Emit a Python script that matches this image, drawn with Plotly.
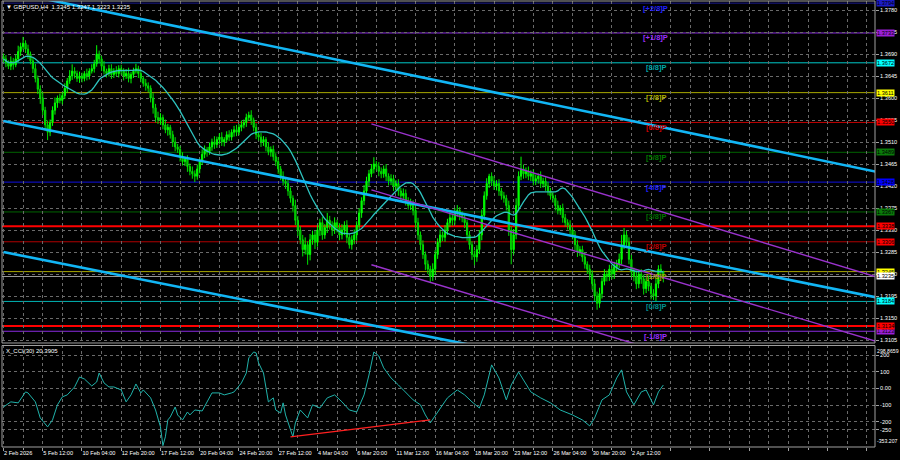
import numpy as np
import pandas as pd
import plotly.graph_objects as go

# ---------------- data (prices as 1/10000 above 1.3000) ----------------
open_first = 685
close_pts = [
    680, 672, 665, 675, 668, 680, 695, 705, 712, 700, 690, 676, 660, 640, 618, 600,
    575, 545, 530, 550, 575, 590, 600, 595, 605, 620, 635, 645, 655, 650, 640, 645,
    640, 650, 645, 655, 660, 670, 690, 680, 665, 655, 650, 660, 648, 655, 650, 660,
    655, 645, 650, 640, 648, 655, 660, 650, 640, 630, 625, 620, 600, 580, 560, 555,
    560, 545, 535, 540, 525, 510, 500, 495, 480, 470, 475, 460, 450, 445, 440, 455,
    470, 485, 495, 490, 500, 510, 505, 515, 520, 510, 515, 525, 520, 530, 535, 530,
    540, 545, 550, 560, 565, 555, 540, 525, 520, 510, 515, 500, 490, 495, 480, 470,
    455, 440, 430, 425, 410, 395, 380, 350, 330, 310, 290, 300, 280, 310, 320, 305,
    330, 345, 320, 335, 350, 340, 330, 345, 335, 320, 330, 340, 315, 300, 310, 320,
    340, 365, 390, 410, 430, 445, 455, 465, 460, 450, 445, 455, 440, 430, 435, 420,
    425, 410, 400, 405, 390, 380, 385, 370, 345, 320, 300, 280, 260, 250, 235, 250,
    280, 305, 320, 315, 330, 345, 355, 350, 365, 370, 360, 355, 345, 320, 300, 280,
    275, 290, 320, 360, 400, 425, 440, 430, 420, 425, 410, 400, 395, 380, 330, 290,
    320, 380, 440, 455, 445, 450, 440, 445, 430, 435, 440, 425, 430, 420, 410, 400,
    395, 380, 370, 375, 355, 345, 340, 330, 320, 300, 285, 290, 275, 260, 250, 240,
    220, 195, 180, 200, 225, 240, 235, 250, 240, 255, 260, 270, 300, 320, 305, 270,
    245, 235, 220, 240, 230, 210, 225, 215, 200, 195, 220, 250, 245, 235,
]
up_wick = [
    6, 8, 5, 10, 7, 9, 12, 8, 13, 6, 9, 5, 7, 10, 6, 8,
    12, 7, 9, 6, 8, 11, 5, 9, 7, 10, 6, 12, 14, 8, 6, 9,
    7, 5, 10, 6, 9, 8, 18, 7, 6, 11, 5, 8, 9, 6, 10, 7,
    8, 6, 9, 12, 5, 7, 10, 6, 8, 5, 9, 7, 6, 10, 8, 12,
    9, 6, 11, 7, 5, 8, 10, 6, 7, 9, 5, 8, 6, 10, 7, 9,
    6, 10, 8, 5, 9, 7, 12, 6, 8, 10, 5, 7, 9, 6, 8, 10,
    7, 9, 6, 8, 7, 10, 5, 8, 6, 9, 7, 5, 10, 6, 8, 7,
    9, 6, 10, 5, 8, 7, 6, 12, 9, 8, 10, 15, 7, 12, 9, 8,
    10, 8, 12, 7, 15, 9, 8, 11, 6, 9, 12, 8, 10, 7, 9, 11,
    8, 10, 7, 12, 9, 8, 10, 14, 6, 9, 8, 7, 10, 6, 9, 8,
    7, 9, 6, 10, 8, 7, 9, 6, 8, 10, 7, 9, 6, 8, 7, 12,
    9, 8, 11, 7, 10, 8, 12, 9, 10, 11, 7, 8, 9, 6, 8, 7,
    8, 9, 10, 12, 9, 11, 5, 8, 10, 7, 9, 6, 8, 7, 10, 8,
    12, 15, 10, 25, 9, 8, 10, 7, 9, 8, 6, 10, 7, 8, 9, 6,
    8, 7, 10, 6, 9, 8, 7, 10, 6, 8, 9, 7, 8, 10, 6, 9,
    8, 10, 9, 12, 8, 10, 7, 9, 8, 10, 9, 12, 20, 14, 8, 10,
    9, 8, 12, 7, 10, 9, 8, 12, 7, 9, 12, 8, 10, 2,
]
down_wick = [
    7, 9, 6, 8, 10, 5, 7, 9, 6, 8, 10, 7, 9, 8, 10, 12,
    10, 12, 16, 8, 7, 9, 10, 6, 8, 7, 9, 6, 8, 10, 7, 9,
    8, 6, 9, 7, 5, 8, 6, 9, 10, 7, 8, 6, 9, 7, 5, 8,
    7, 9, 6, 8, 10, 7, 5, 9, 8, 7, 10, 8, 9, 12, 10, 8,
    10, 9, 7, 12, 8, 10, 9, 7, 10, 8, 9, 11, 8, 10, 12, 7,
    9, 7, 8, 10, 6, 8, 9, 7, 10, 8, 9, 6, 8, 7, 9, 8,
    6, 8, 7, 9, 6, 10, 8, 9, 7, 10, 8, 9, 7, 10, 8, 9,
    10, 8, 9, 11, 10, 9, 12, 10, 12, 9, 14, 10, 21, 12, 10, 14,
    9, 12, 10, 8, 11, 9, 12, 8, 10, 11, 9, 10, 12, 8, 10, 9,
    12, 8, 10, 9, 8, 10, 7, 9, 8, 10, 9, 8, 10, 9, 8, 10,
    8, 10, 9, 7, 10, 8, 9, 10, 12, 10, 11, 9, 12, 10, 13, 9,
    12, 9, 10, 8, 9, 10, 8, 11, 9, 8, 10, 9, 11, 12, 10, 11,
    17, 10, 9, 11, 10, 8, 9, 10, 8, 9, 10, 8, 9, 10, 12, 30,
    10, 9, 11, 8, 10, 9, 8, 10, 9, 8, 10, 9, 8, 10, 9, 8,
    9, 10, 8, 9, 10, 8, 9, 10, 9, 11, 10, 8, 10, 9, 10, 12,
    12, 10, 13, 9, 10, 8, 10, 9, 11, 10, 9, 8, 10, 9, 12, 10,
    12, 10, 11, 9, 10, 12, 9, 10, 12, 8, 10, 9, 11, 12,
]

cci_bars = [0, 3, 6, 9, 10, 13, 15, 18, 20, 22, 24, 26, 29, 31, 33, 36, 38, 39, 41, 43,
            45, 48, 50, 52, 54, 56, 57, 60, 62, 64, 65, 66, 67, 68, 70, 71, 73, 75, 76, 78,
            81, 83, 85, 88, 90, 93, 94, 97, 99, 100, 102, 103, 104, 106, 107, 108, 110, 111, 113, 114,
            115, 117, 118, 119, 121, 124, 126, 129, 132, 135, 138, 141, 144, 147, 149, 151, 153, 155, 158, 161,
            164, 167, 170, 172, 174, 177, 181, 185, 188, 191, 194, 196, 199, 202, 205, 207, 210, 212, 215, 219,
            223, 227, 232, 236, 239, 241, 244, 247, 250, 252, 254, 257, 260, 262, 265, 267, 269]
cci_vals = [-112, -81, -87, -21, -27, -81, -178, -232, -190, -99, -51, -39, 9, 69, 57, 15, 39, 93, 33, 9,
            9, -9, -81, -39, 27, -27, -9, -57, -130, -232, -345, -292, -190, -172, -112, -160, -190, -142, -160, -130,
            -136, -81, -27, -27, -39, -27, -21, 33, 93, 184, 220, 214, 154, 93, -9, -81, -57, -130, -148, -87,
            -160, -250, -292, -208, -130, -178, -99, -118, -57, -39, -81, -130, -142, -39, 81, 220, 196, 124, 63, 21,
            -21, -69, -99, -160, -208, -142, -57, -9, -39, -81, -118, -39, 142, 63, -69, 21, 99, 51, -21, -57,
            -87, -130, -160, -190, -226, -178, -69, -39, 63, 112, -21, -99, -21, -9, -99, -21, 20.3905]
cci_trend_bars = [117, 174]
cci_trend_vals = [-292, -190]

x_tick_labels = ["2 Feb 2026", "5 Feb 12:00", "10 Feb 04:00", "12 Feb 20:00", "17 Feb 12:00",
                 "20 Feb 04:00", "24 Feb 20:00", "27 Feb 12:00", "4 Mar 04:00", "6 Mar 20:00",
                 "11 Mar 12:00", "16 Mar 04:00", "18 Mar 20:00", "23 Mar 12:00", "26 Mar 04:00",
                 "30 Mar 20:00", "2 Apr 12:00"]

# regression channels (bar index, price)
cyan_bars = [0, 356]
cyan_upper = [1.3820, 1.3449]
cyan_mid = [1.3553, 1.3192]
cyan_lower = [1.3285, 1.2930]
purple_bars = [150, 356]
purple_upper = [1.3547, 1.3234]
purple_mid = [1.3412, 1.3102]
purple_lower = [1.3259, 1.2949]

# Murrey levels
mm_levels = [1.3794, 1.3733, 1.3672, 1.3611, 1.3550, 1.3489, 1.3428, 1.3367, 1.3306, 1.3245, 1.3184, 1.3123]
mm_names = ["[+2/8]P", "[+1/8]P", "[8/8]P", "[7/8]P", "[6/8]P", "[5/8]P", "[4/8]P",
            "[3/8]P", "[2/8]P", "[1/8]P", "[0/8]P", "[-1/8]P"]
mm_line_colors = ["#1a1a8c", "#8a2be2", "#00c8c8", "#a8a800", "#c00000", "#006400", "#1010e0",
                  "#006400", "#b00000", "#a8a800", "#00b4b4", "#8a2be2"]
mm_box_colors = ["#1c1cc8", "#9b1fd8", "#00ffff", "#ffff00", "#ff0000", "#0a7a0a", "#0000ff",
                 "#0a7a0a", "#ff0000", "#ffff00", "#00ffff", "#9b1fd8"]
mm_text_colors = ["#2020ff", "#9b30ff", "#00a8a8", "#b0b000", "#d00000", "#007800", "#2020ff",
                  "#007000", "#c00000", "#a0a000", "#009090", "#9b30ff"]
red_levels = [1.3338, 1.3134]
price_now = 1.3235

price_ticks = [1.3105, 1.3150, 1.3195, 1.3240, 1.3285, 1.3330, 1.3375, 1.3420, 1.3465,
               1.3510, 1.3555, 1.3600, 1.3645, 1.3690, 1.3735, 1.3780]
cci_ticks = [200, 100, 0, -100, -200, -250]
cci_tick_text = ["200", "100", "0.00", "-100", "-200", "-250"]

# ---------------- derived series ----------------
n = len(close_pts)
bars = list(range(n))
closes = [1.3 + c / 10000 for c in close_pts]
opens = [1.3 + open_first / 10000] + closes[:-1]
highs = [max(o, c) + u / 10000 for o, c, u in zip(opens, closes, up_wick)]
lows = [min(o, c) - d / 10000 for o, c, d in zip(opens, closes, down_wick)]
ma = pd.Series(closes).rolling(20, min_periods=1).mean().tolist()

FONT = "Liberation Sans"
FS = 5.6
GRID = "#6a6a6a"
FRAME = "#a0a0a0"
main_dom = [0.2332, 1.0]
cci_dom = [0.0, 0.2276]

fig = go.Figure()

fig.add_trace(go.Candlestick(
    x=bars, open=opens, high=highs, low=lows, close=closes,
    xaxis="x", yaxis="y", whiskerwidth=0,
    increasing=dict(line=dict(color="#00ff00", width=1), fillcolor="#00ff00"),
    decreasing=dict(line=dict(color="#00e000", width=1), fillcolor="#009a00"),
    showlegend=False, hoverinfo="skip"))

fig.add_trace(go.Scatter(x=bars, y=ma, mode="lines", line=dict(color="#2ec4c0", width=1.3),
                         xaxis="x", yaxis="y", showlegend=False, hoverinfo="skip"))

for ys in (cyan_upper, cyan_mid, cyan_lower):
    fig.add_trace(go.Scatter(x=cyan_bars, y=ys, mode="lines", line=dict(color="#12b6f5", width=2.6),
                             xaxis="x", yaxis="y", showlegend=False, hoverinfo="skip"))
for ys in (purple_upper, purple_mid, purple_lower):
    fig.add_trace(go.Scatter(x=purple_bars, y=ys, mode="lines", line=dict(color="#9932cc", width=1.4),
                             xaxis="x", yaxis="y", showlegend=False, hoverinfo="skip"))

fig.add_trace(go.Scatter(x=cci_bars, y=cci_vals, mode="lines", line=dict(color="#20b2aa", width=1),
                         xaxis="x", yaxis="y2", showlegend=False, hoverinfo="skip"))
fig.add_trace(go.Scatter(x=cci_trend_bars, y=cci_trend_vals, mode="lines", line=dict(color="#ff2020", width=1.3),
                         xaxis="x", yaxis="y2", showlegend=False, hoverinfo="skip"))

shapes = []
annotations = []
for lvl, lc, bc, tc, nm in zip(mm_levels, mm_line_colors, mm_box_colors, mm_text_colors, mm_names):
    shapes.append(dict(type="line", xref="x domain", x0=0, x1=1, yref="y", y0=lvl, y1=lvl,
                       line=dict(color=lc, width=1), layer="below"))
    annotations.append(dict(xref="paper", x=1, xanchor="left", xshift=1, yref="y", y=lvl,
                            text="%.4f" % lvl, showarrow=False, bgcolor=bc, borderpad=0,
                            font=dict(family=FONT, size=FS, color="#000000")))
    annotations.append(dict(xref="x", x=266, xanchor="center", yref="y", y=lvl, yshift=-5,
                            text="<b>%s</b>" % nm, showarrow=False,
                            font=dict(family=FONT, size=7.5, color=tc)))
for lvl in red_levels:
    shapes.append(dict(type="line", xref="x domain", x0=0, x1=1, yref="y", y0=lvl, y1=lvl,
                       line=dict(color="#ff0000", width=2), layer="below"))
    annotations.append(dict(xref="paper", x=1, xanchor="left", xshift=1, yref="y", y=lvl,
                            text="%.4f" % lvl, showarrow=False, bgcolor="#ff0000", borderpad=0,
                            font=dict(family=FONT, size=FS, color="#000000")))
shapes.append(dict(type="line", xref="x domain", x0=0, x1=1, yref="y", y0=price_now, y1=price_now,
                   line=dict(color="#9a9a9a", width=1), layer="below"))
annotations.append(dict(xref="paper", x=1, xanchor="left", xshift=1, yref="y", y=price_now,
                        text="%.4f" % price_now, showarrow=False, bgcolor="#ffffff", borderpad=0,
                        font=dict(family=FONT, size=FS, color="#000000")))

# frames
shapes.append(dict(type="rect", xref="paper", yref="paper", x0=0, x1=1, y0=main_dom[0], y1=main_dom[1],
                   line=dict(color=FRAME, width=1), layer="above"))
shapes.append(dict(type="rect", xref="paper", yref="paper", x0=0, x1=1, y0=cci_dom[0], y1=cci_dom[1],
                   line=dict(color=FRAME, width=1), layer="above"))

# titles
annotations.append(dict(xref="paper", x=0, xanchor="left", xshift=2, yref="paper", y=1, yanchor="top",
                        yshift=-1, showarrow=False,
                        text="▼ GBPUSD,H4  %.4f %.4f %.4f %.4f" % (opens[-1], highs[-1], lows[-1], closes[-1]),
                        font=dict(family=FONT, size=6, color="#ffffff")))
annotations.append(dict(xref="paper", x=0, xanchor="left", xshift=2, yref="paper", y=cci_dom[1], yanchor="top",
                        yshift=-1, showarrow=False, text="X_CCI(30) %.4f" % cci_vals[-1],
                        font=dict(family=FONT, size=6, color="#ffffff")))
annotations.append(dict(xref="paper", x=1, xanchor="left", xshift=0, yref="paper", y=cci_dom[1], yanchor="top",
                        yshift=-1, showarrow=False, text="298.8659",
                        font=dict(family=FONT, size=5.2, color="#ffffff")))
annotations.append(dict(xref="paper", x=1, xanchor="left", xshift=0, yref="paper", y=0, yanchor="bottom",
                        yshift=1, showarrow=False, text="-353.207",
                        font=dict(family=FONT, size=5.2, color="#ffffff")))

major_vals = list(range(0, 353, 16))
major_text = x_tick_labels + [""] * (len(major_vals) - len(x_tick_labels))
minor_vals = list(range(8, 353, 16))

fig.update_layout(
    width=900, height=460,
    margin=dict(l=2, r=25, t=1, b=13, autoexpand=False),
    paper_bgcolor="#000000", plot_bgcolor="#000000",
    showlegend=False,
    shapes=shapes, annotations=annotations,
    xaxis=dict(domain=[0, 1], range=[-0.6, 355.3], anchor="y2", rangeslider=dict(visible=False),
               tickmode="array", tickvals=major_vals, ticktext=major_text,
               ticklabelposition="outside right", tickangle=0,
               tickfont=dict(family=FONT, size=FS, color="#ffffff"),
               ticks="outside", ticklen=3, tickcolor=FRAME,
               showgrid=True, gridcolor=GRID, griddash="3px,3px", gridwidth=1,
               minor=dict(tickmode="array", tickvals=minor_vals, showgrid=True, gridcolor=GRID,
                          griddash="3px,3px", ticks="outside", ticklen=2, tickcolor=FRAME),
               showline=False, zeroline=False, fixedrange=True, automargin=False),
    yaxis=dict(domain=main_dom, range=[1.3099, 1.37984], side="right", anchor="x",
               tickmode="array", tickvals=price_ticks, tickformat=".4f",
               tickfont=dict(family=FONT, size=FS, color="#ffffff"),
               ticks="outside", ticklen=3, tickcolor=FRAME,
               showgrid=True, gridcolor=GRID, griddash="3px,3px", gridwidth=1,
               zeroline=False, showline=False, automargin=False),
    yaxis2=dict(domain=cci_dom, range=[-353.207, 259], side="right", anchor="x",
                tickmode="array", tickvals=cci_ticks, ticktext=cci_tick_text,
                tickfont=dict(family=FONT, size=FS, color="#ffffff"),
                ticks="outside", ticklen=3, tickcolor=FRAME,
                showgrid=True, gridcolor=GRID, griddash="3px,3px", gridwidth=1,
                zeroline=False, showline=False, automargin=False),
)

fig.write_html("out.html", config={"displayModeBar": False},
               post_script="document.body.style.margin='0';document.body.style.background='#000';")
